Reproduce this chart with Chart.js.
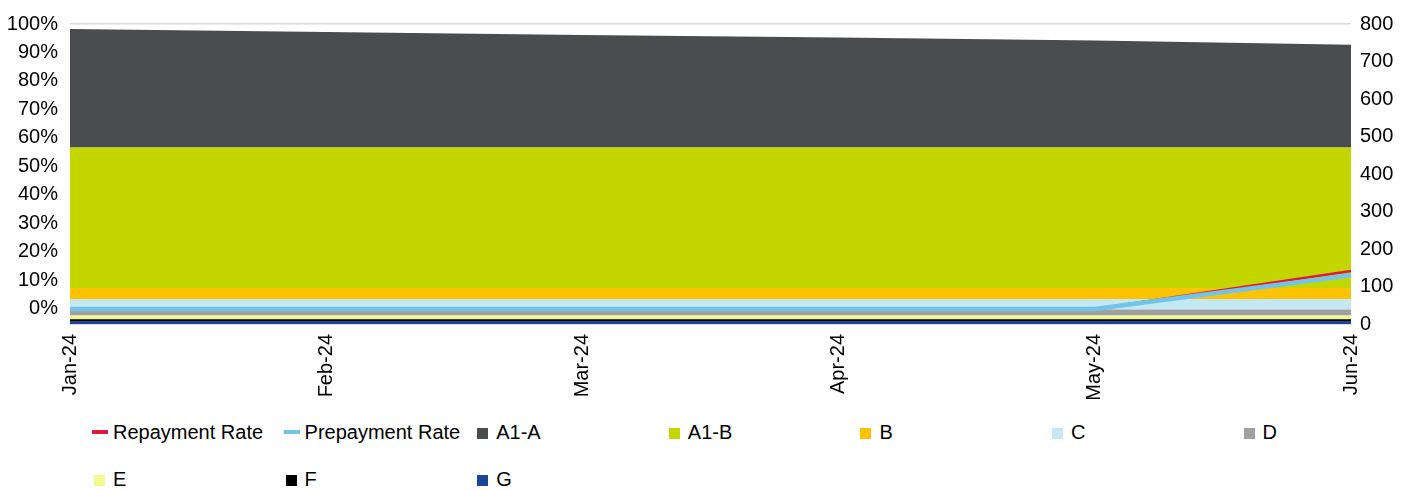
<!DOCTYPE html>
<html>
<head>
<meta charset="utf-8">
<script src="https://cdn.jsdelivr.net/npm/chart.js@4.4.1/dist/chart.umd.min.js"></script>
<style>
  body { margin: 0; background: #fff; font-family: "Liberation Sans", Arial, sans-serif; }
  #wrap { position: relative; width: 1405px; height: 490px; }
  #chartBox { position: absolute; left: 0; top: 0; width: 1405px; height: 405px; }
  .item { position: absolute; height: 22px; font-size: 20px; line-height: 22px; color: #000; white-space: nowrap; }
  .mark { position: absolute; }
  .txt { position: absolute; left: 21px; top: 0; }
</style>
</head>
<body>
<div id="wrap">
  <div id="chartBox"><canvas id="trancheChart"></canvas></div>
  <div id="legend"></div>
</div>
<script>
// chart data
const months = ["Jan-24", "Feb-24", "Mar-24", "Apr-24", "May-24", "Jun-24"];
const repaymentRate = [0, 0, 0, 0, 0, 13.3];
const prepaymentRate = [0, 0, 0, 0, 0, 11.8];
const trancheA1A = [316, 308, 300, 293, 285, 274];
const trancheA1B = [375, 375, 375, 375, 375, 375];
const trancheB = [29, 29, 29, 29, 29, 29];
const trancheC = [28, 28, 28, 28, 28, 28];
const trancheD = [16, 16, 16, 16, 16, 16];
const trancheE = [10, 10, 10, 10, 10, 10];
const trancheF = [5, 5, 5, 5, 5, 5];
const trancheG = [8, 8, 8, 8, 8, 8];
const pctTicks = [0, 10, 20, 30, 40, 50, 60, 70, 80, 90, 100];
const amountTicks = [0, 100, 200, 300, 400, 500, 600, 700, 800];

const colors = {
  repay: "#e4173e", prepay: "#71c5e8",
  A1A: "#4a4d50", A1B: "#c4d600", B: "#fdc300", C: "#c5e8f5",
  D: "#a0a0a0", E: "#f3f98f", F: "#000000", G: "#1b459b"
};

// stacked areas, bottom to top
const areas = [
  { label: "G", data: trancheG, color: colors.G },
  { label: "F", data: trancheF, color: colors.F },
  { label: "E", data: trancheE, color: colors.E },
  { label: "D", data: trancheD, color: colors.D },
  { label: "C", data: trancheC, color: colors.C },
  { label: "B", data: trancheB, color: colors.B },
  { label: "A1-B", data: trancheA1B, color: colors.A1B },
  { label: "A1-A", data: trancheA1A, color: colors.A1A }
];

const datasets = [
  { label: "Prepayment Rate", data: prepaymentRate, yAxisID: "yL", borderColor: colors.prepay,
    borderWidth: 4.5, fill: false, pointRadius: 0, tension: 0 },
  { label: "Repayment Rate", data: repaymentRate, yAxisID: "yL", borderColor: colors.repay,
    borderWidth: 2.5, fill: false, pointRadius: 0, tension: 0 }
];
areas.forEach((a, i) => {
  datasets.push({
    label: a.label, data: a.data, yAxisID: "yR",
    backgroundColor: a.color, borderWidth: 0, borderColor: a.color,
    fill: i === 0 ? "origin" : "-1", pointRadius: 0, tension: 0
  });
});

const tickFont = { family: "Liberation Sans, Arial, sans-serif", size: 20 };

new Chart(document.getElementById("trancheChart"), {
  type: "line",
  data: { labels: months, datasets: datasets },
  options: {
    responsive: true,
    maintainAspectRatio: false,
    animation: false,
    layout: { padding: { top: 23, left: 0, right: 0, bottom: 0 } },
    plugins: { legend: { display: false }, tooltip: { enabled: false } },
    scales: {
      x: {
        offset: false,
        grid: { display: false, drawTicks: false },
        border: { display: true, color: "#d9d9d9" },
        ticks: { color: "#000", font: tickFont, minRotation: 90, maxRotation: 90, autoSkip: false, padding: 10 },
        afterFit: (s) => { s.height = 81; }
      },
      yL: {
        position: "left",
        min: -5.3, max: 100,
        grid: { display: false, drawTicks: false },
        border: { display: false },
        afterBuildTicks: (s) => { s.ticks = pctTicks.map(v => ({ value: v })); },
        ticks: { color: "#000", font: tickFont, padding: 12, callback: (v) => v + "%" },
        afterFit: (s) => { s.width = 70; }
      },
      yR: {
        position: "right",
        stacked: true,
        min: 0, max: 800,
        afterBuildTicks: (s) => { s.ticks = amountTicks.map(v => ({ value: v })); },
        grid: {
          drawTicks: false,
          lineWidth: 1.5,
          color: (ctx) => (ctx.tick && ctx.tick.value === 800 ? "#d9d9d9" : "rgba(0,0,0,0)")
        },
        border: { display: false },
        ticks: { color: "#000", font: tickFont, padding: 9 },
        afterFit: (s) => { s.width = 54; }
      }
    }
  }
});

// legend laid out as a grid like the original
const legendItems = [
  { label: "Repayment Rate", color: colors.repay, line: true },
  { label: "Prepayment Rate", color: colors.prepay, line: true },
  { label: "A1-A", color: colors.A1A },
  { label: "A1-B", color: colors.A1B },
  { label: "B", color: colors.B },
  { label: "C", color: colors.C },
  { label: "D", color: colors.D },
  { label: "E", color: colors.E },
  { label: "F", color: colors.F },
  { label: "G", color: colors.G }
];
const legendEl = document.getElementById("legend");
legendItems.forEach((it, i) => {
  const col = i % 7, row = Math.floor(i / 7);
  const div = document.createElement("div");
  div.className = "item";
  div.style.left = (92 + 191.6 * col) + "px";
  div.style.top = (421 + row * 47) + "px";
  const mark = document.createElement("span");
  mark.className = "mark";
  mark.style.background = it.color;
  if (it.line) {
    mark.style.left = "0px"; mark.style.top = "9px"; mark.style.width = "16px"; mark.style.height = "4px";
  } else {
    mark.style.left = "2px"; mark.style.top = "7px"; mark.style.width = "11px"; mark.style.height = "11px";
  }
  const txt = document.createElement("span");
  txt.className = "txt";
  txt.textContent = it.label;
  div.appendChild(mark);
  div.appendChild(txt);
  legendEl.appendChild(div);
});
</script>
</body>
</html>
